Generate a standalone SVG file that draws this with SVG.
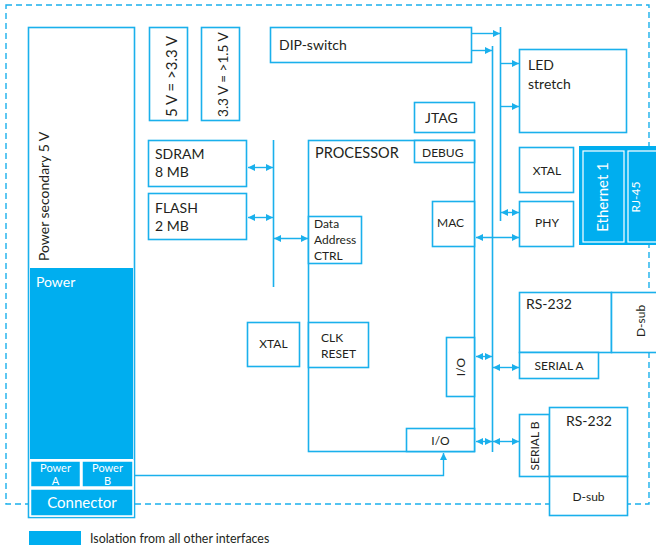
<svg xmlns="http://www.w3.org/2000/svg" width="656" height="550" viewBox="0 0 656 550">
<defs>
<marker id="ah" viewBox="0 0 10 10" refX="10" refY="5" markerWidth="7" markerHeight="7" markerUnits="userSpaceOnUse" orient="auto-start-reverse">
<path d="M0,0 L10,5 L0,10 z" fill="#1ab0ec"/>
</marker>
<style>
.b{fill:#fff;stroke:#1ab0ec;stroke-width:1.6}
.f{fill:#00aeef}
.fw{fill:#00aeef;stroke:#fff;stroke-width:1.5}
.l{fill:none;stroke:#1ab0ec;stroke-width:1.6}
.a{fill:none;stroke:#1ab0ec;stroke-width:1.4;marker-end:url(#ah)}
.d{fill:none;stroke:#1ab0ec;stroke-width:1.4;marker-start:url(#ah);marker-end:url(#ah)}
text{font-family:Lato,"Open Sans","DejaVu Sans",sans-serif;fill:#231f20}
.t15{font-size:15px}
.t14{font-size:14px}
.t13{font-size:13px}
.t12{font-size:12px}
.t11{font-size:11px}
.w{fill:#fff}
</style>
</defs>
<rect x="6" y="5" width="643" height="499" fill="none" stroke="#1ab0ec" stroke-width="1.4" stroke-dasharray="6 4"/>

<g id="power-secondary">
<rect class="b" x="28.5" y="27.5" width="106" height="490"/>
<text class="t14" transform="translate(49,261) rotate(-90)">Power secondary 5 V</text>
</g>
<g id="power">
<rect class="f" x="30" y="268" width="103" height="191"/>
<text class="t14 w" x="36" y="287">Power</text>
</g>
<g id="power-a">
<rect class="fw" x="30.5" y="461" width="50" height="26"/>
<text class="w" style="font-size:11px" x="55.5" y="471.5" text-anchor="middle">Power</text>
<text class="w" style="font-size:11px" x="55.5" y="485" text-anchor="middle">A</text>
</g>
<g id="power-b">
<rect class="fw" x="82" y="461" width="51" height="26"/>
<text class="w" style="font-size:11px" x="107.5" y="471.5" text-anchor="middle">Power</text>
<text class="w" style="font-size:11px" x="107.5" y="485" text-anchor="middle">B</text>
</g>
<g id="connector">
<rect class="fw" x="30.5" y="489" width="102.5" height="27"/>
<text class="t15 w" x="82" y="507.5" text-anchor="middle">Connector</text>
</g>

<g id="v5-33">
<rect class="b" x="149.5" y="27.5" width="38" height="93"/>
<text style="font-size:15px" transform="translate(176.5,117) rotate(-90)">5 V = &gt;3.3 V</text>
</g>
<g id="v33-15">
<rect class="b" x="201.5" y="27.5" width="38" height="93"/>
<text style="font-size:13.6px" transform="translate(228,117) rotate(-90)">3.3 V = &gt;1.5 V</text>
</g>
<g id="dip-switch">
<rect class="b" x="270.5" y="27.5" width="201" height="35"/>
<text class="t14" x="279" y="50">DIP-switch</text>
</g>

<g id="sdram">
<rect class="b" x="148.5" y="140.5" width="98" height="46"/>
<text class="t14" x="155" y="159">SDRAM</text>
<text class="t14" x="155" y="177">8 MB</text>
</g>
<g id="flash">
<rect class="b" x="148.5" y="193.5" width="98" height="46"/>
<text class="t14" x="155" y="213">FLASH</text>
<text class="t14" x="155" y="231">2 MB</text>
</g>

<g id="jtag">
<rect class="b" x="414.5" y="102.5" width="60" height="30"/>
<text class="t14" x="425" y="123">JTAG</text>
</g>
<g id="processor">
<rect class="b" x="308.5" y="140.5" width="166" height="311"/>
<text style="font-size:14.5px" x="315" y="158">PROCESSOR</text>
</g>
<g id="debug">
<rect class="b" x="414.5" y="140.5" width="60" height="22"/>
<text class="t12" x="422" y="157">DEBUG</text>
</g>
<g id="data-address-ctrl">
<rect class="b" x="308.5" y="216.5" width="53" height="47"/>
<text class="t12" x="314" y="228">Data</text>
<text class="t12" x="314" y="244">Address</text>
<text class="t12" x="314" y="260">CTRL</text>
</g>
<g id="mac">
<rect class="b" x="432.5" y="201.5" width="42" height="45"/>
<text class="t12" x="437" y="227">MAC</text>
</g>
<g id="clk-reset">
<rect class="b" x="308.5" y="322.5" width="60" height="45"/>
<text class="t12" x="321" y="342">CLK</text>
<text class="t12" x="321" y="358">RESET</text>
</g>
<g id="xtal-left">
<rect class="b" x="247.5" y="322.5" width="52" height="44"/>
<text class="t12" x="273.5" y="348" text-anchor="middle">XTAL</text>
</g>
<g id="io-right">
<rect class="b" x="446.5" y="337.5" width="28" height="59"/>
<text class="t12" transform="translate(465,367) rotate(-90)" text-anchor="middle">I/O</text>
</g>
<g id="io-bottom">
<rect class="b" x="406.5" y="428.5" width="68" height="23"/>
<text class="t12" x="440.5" y="445" text-anchor="middle">I/O</text>
</g>

<g id="led-stretch">
<rect class="b" x="519.5" y="49.5" width="107" height="83"/>
<text class="t14" x="528" y="70">LED</text>
<text class="t14" x="528" y="89">stretch</text>
</g>
<g id="xtal-right">
<rect class="b" x="519.5" y="147.5" width="54" height="45"/>
<text class="t12" x="547" y="175" text-anchor="middle">XTAL</text>
</g>
<g id="phy">
<rect class="b" x="519.5" y="201.5" width="54" height="45"/>
<text class="t12" x="547" y="227" text-anchor="middle">PHY</text>
</g>
<g id="ethernet">
<rect class="f" x="579" y="146" width="80" height="99"/>
<rect fill="none" stroke="#fff" stroke-width="1.2" x="583" y="151" width="41" height="91"/>
<rect fill="none" stroke="#fff" stroke-width="1.2" x="628" y="151" width="32" height="91"/>
<text class="t15 w" transform="translate(608,197) rotate(-90)" text-anchor="middle">Ethernet 1</text>
<text class="t12 w" transform="translate(640,197) rotate(-90)" text-anchor="middle">RJ-45</text>
</g>

<g id="rs232-a">
<rect class="b" x="519.5" y="292.5" width="92" height="60"/>
<text class="t14" x="526" y="309">RS-232</text>
</g>
<g id="dsub-a">
<rect class="b" x="611.5" y="292.5" width="50" height="60"/>
<text class="t12" transform="translate(645,321) rotate(-90)" text-anchor="middle">D-sub</text>
</g>
<g id="serial-a">
<rect class="b" x="519.5" y="352.5" width="79" height="26"/>
<text class="t12" x="559" y="370" text-anchor="middle">SERIAL A</text>
</g>
<g id="serial-b">
<rect class="b" x="519.5" y="414.5" width="30" height="62"/>
<text class="t12" transform="translate(539,446) rotate(-90)" text-anchor="middle">SERIAL B</text>
</g>
<g id="rs232-b">
<rect class="b" x="549.5" y="407.5" width="78" height="69"/>
<text class="t14" x="566" y="426">RS-232</text>
</g>
<g id="dsub-b">
<rect class="b" x="549.5" y="476.5" width="78" height="39"/>
<text class="t12" x="588.5" y="501" text-anchor="middle">D-sub</text>
</g>

<g id="connectors">
<line class="l" x1="273.5" y1="140" x2="273.5" y2="287"/>
<line class="l" x1="492.5" y1="46" x2="492.5" y2="452"/>
<line class="l" x1="500.5" y1="27" x2="500.5" y2="221"/>
<line class="a" x1="472" y1="33.5" x2="500" y2="33.5"/>
<line class="a" x1="472" y1="50.5" x2="492" y2="50.5"/>
<line class="a" x1="501" y1="63.5" x2="519" y2="63.5"/>
<line class="a" x1="501" y1="106.5" x2="519" y2="106.5"/>
<line class="d" x1="501" y1="212.5" x2="519" y2="212.5"/>
<line class="d" x1="476" y1="237.5" x2="519" y2="237.5"/>
<line class="d" x1="248" y1="167.5" x2="273" y2="167.5"/>
<line class="d" x1="248" y1="217.5" x2="273" y2="217.5"/>
<line class="d" x1="274" y1="238.5" x2="308" y2="238.5"/>
<line class="d" x1="476" y1="356.5" x2="492" y2="356.5"/>
<line class="d" x1="493" y1="367.5" x2="519" y2="367.5"/>
<line class="d" x1="476" y1="441.5" x2="492" y2="441.5"/>
<line class="d" x1="493" y1="441.5" x2="519" y2="441.5"/>
<path class="a" d="M135,475.5 H443.5 V453"/>
</g>

<g id="legend">
<rect class="f" x="29" y="531" width="52" height="14"/>
<text style="font-size:12.4px" x="90" y="542.5">Isolation from all other interfaces</text>
</g>
</svg>
